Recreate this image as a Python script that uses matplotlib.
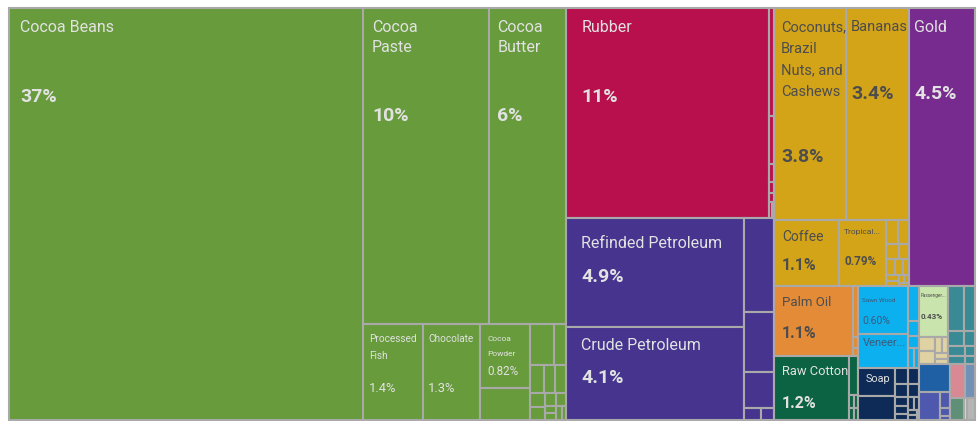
import matplotlib.pyplot as plt
from matplotlib.patches import Rectangle

# export shares (%), one list per section
food_vals = [36.54, 10.0, 6.11, 1.45, 1.35, 0.80, 0.40, 0.25, 0.13, 0.10, 0.075, 0.075,
             0.057, 0.049, 0.038, 0.033, 0.02, 0.02, 0.019, 0.016]
food_names = ['Cocoa Beans', 'Cocoa\nPaste', 'Cocoa\nButter', 'Processed\nFish', 'Chocolate', 'Cocoa\nPowder']
food_pcts = ['37%', '10%', '6%', '1.4%', '1.3%', '0.82%']

rubber_vals = [10.66, 0.135, 0.06, 0.023, 0.014, 0.011, 0.01, 0.01]
rubber_names = ['Rubber']
rubber_pcts = ['11%']

mineral_vals = [4.88, 4.12, 0.71, 0.45, 0.27, 0.05, 0.04]
mineral_names = ['Refinded Petroleum', 'Crude Petroleum']
mineral_pcts = ['4.9%', '4.1%']

veg_vals = [3.82, 3.36, 1.08, 0.78, 0.072, 0.066,
            0.05, 0.04, 0.035, 0.03, 0.025, 0.02, 0.015, 0.012, 0.01, 0.008]
veg_names = ['Coconuts,\nBrazil\nNuts, and\nCashews', 'Bananas', 'Coffee', 'Tropical...']
veg_pcts = ['3.8%', '3.4%', '1.1%', '0.79%']

gold_vals = [4.58]
gold_names = ['Gold']
gold_pcts = ['4.5%']

oils_vals = [1.39, 0.065, 0.015, 0.01]
oils_names = ['Palm Oil']
oils_pcts = ['1.1%']

textile_vals = [1.21, 0.09, 0.014, 0.014, 0.014, 0.014]
textile_names = ['Raw Cotton']
textile_pcts = ['1.2%']

wood_vals = [0.60, 0.42, 0.088, 0.04, 0.03, 0.025, 0.025]
wood_names = ['Sawn Wood', 'Veneer...']
wood_pcts = ['0.60%', '']

chem_vals = [0.26, 0.22, 0.055, 0.045, 0.04, 0.035, 0.03, 0.025, 0.02, 0.018, 0.015, 0.012, 0.01, 0.005]
chem_names = ['Soap']
chem_pcts = ['']

transport_vals = [0.38]
transport_names = ['Passenger...']
transport_pcts = ['0.43%']

beige_vals = [0.055, 0.05, 0.03, 0.025, 0.02, 0.015]
machine_vals = [0.18, 0.12, 0.06, 0.045, 0.04, 0.03, 0.025, 0.02]
instr_vals = [0.22]
metal_vals = [0.15, 0.04, 0.02, 0.01]
pink_vals = [0.13]
slate_vals = [0.09]
grgreen_vals = [0.078]
yellowish_vals = [0.015]
other_vals = [0.045]

# nesting of the boxes (leaf ints index the section lists)
sections = {
    'food': (food_vals, ('h', [0, ('v', [('h', [1, 2]), ('h', [3, 4, ('v', [5, 6]),
             ('v', [('h', [7, 8]), ('h', [9, 10, 11]), ('sq', list(range(12, 20)))])])])]),
             '#679b3b', food_names, food_pcts),
    'rubber': (rubber_vals, ('h', [0, ('v', [1, 2, 3, 4, 5, ('h', [6, 7])])]), '#b8104c', rubber_names, rubber_pcts),
    'mineral': (mineral_vals, ('h', [('v', [0, 1]), ('v', [2, 3, 4, ('h', [5, 6])])]), '#46348f',
                mineral_names, mineral_pcts),
    'veg': (veg_vals, ('v', [('h', [0, 1]), ('h', [2, 3, ('v', [('h', [4, 5]), ('sq', list(range(6, 16)))])])]),
            '#d4a418', veg_names, veg_pcts),
    'gold': (gold_vals, 0, '#772b8e', gold_names, gold_pcts),
    'oils': (oils_vals, ('h', [0, ('v', [1, 2, 3])]), '#e48b37', oils_names, oils_pcts),
    'textile': (textile_vals, ('h', [0, ('v', [1, ('sq', [2, 3, 4, 5])])]), '#0b6343', textile_names, textile_pcts),
    'wood': (wood_vals, ('h', [('v', [0, 1]), ('v', [2, 3, 4, ('h', [5, 6])])]), '#0cb0ee', wood_names, wood_pcts),
    'chem': (chem_vals, ('h', [('v', [0, 1]), ('sq', list(range(2, 14)))]), '#0d2b56', chem_names, chem_pcts),
    'transport': (transport_vals, 0, '#c9e4ad', transport_names, transport_pcts),
    'beige': (beige_vals, ('h', [('v', [0, 1]), ('sq', [2, 3, 4, 5])]), '#dfd2a3', [], []),
    'machine': (machine_vals, ('v', [('h', [0, 1]), ('sq', list(range(2, 8)))]), '#3a8a95', [], []),
    'instr': (instr_vals, 0, '#1f5fa4', [], []),
    'metal': (metal_vals, ('h', [0, ('v', [1, 2, 3])]), '#4e59ad', [], []),
    'pink': (pink_vals, 0, '#d98993', [], []),
    'slate': (slate_vals, 0, '#7391b6', [], []),
    'grgreen': (grgreen_vals, 0, '#5f9077', [], []),
    'yellowish': (yellowish_vals, 0, '#f2dd8e', [], []),
    'other': (other_vals, 0, '#b5b5b5', [], []),
}

root = ('h', ['food', ('v', ['rubber', 'mineral']),
              ('v', [('h', ['veg', 'gold']),
                     ('h', [('v', ['oils', 'textile']), ('v', ['wood', 'chem']),
                            ('v', [('h', [('v', ['transport', 'beige']), 'machine']),
                                   ('h', [('v', ['instr', 'metal']),
                                          ('v', [('h', ['pink', 'slate']),
                                                 ('h', ['grgreen', 'yellowish', 'other'])])])])])])])

PHI = (1 + 5 ** 0.5) / 2


def squarify(sizes, x0, y0, w, h):
    # d3 style squarified rows
    x1, y1 = x0 + w, y0 + h
    rects, value, i0, n = [], sum(sizes), 0, len(sizes)
    while i0 < n:
        dx, dy = x1 - x0, y1 - y0
        s = mn = mx = sizes[i0]
        i1 = i0 + 1
        alpha = max(dy / dx, dx / dy) / (value * PHI)
        beta = s * s * alpha
        best = max(mx / beta, beta / mn)
        while i1 < n:
            v = sizes[i1]
            s2, mn2, mx2 = s + v, min(mn, v), max(mx, v)
            beta = s2 * s2 * alpha
            r = max(mx2 / beta, beta / mn2)
            if r > best:
                break
            s, mn, mx, best = s2, mn2, mx2, r
            i1 += 1
        if dx < dy:
            hh, xx = dy * s / value, x0
            for v in sizes[i0:i1]:
                rects.append((xx, y0, dx * v / s, hh))
                xx += dx * v / s
            y0 += hh
        else:
            ww, yy = dx * s / value, y0
            for v in sizes[i0:i1]:
                rects.append((x0, yy, ww, dy * v / s))
                yy += dy * v / s
            x0 += ww
        value -= s
        i0 = i1
    return rects


def total(node, vals=None):
    if isinstance(node, str):
        return sum(sections[node][0])
    if isinstance(node, int):
        return vals[node]
    return sum(total(k, vals) for k in node[1])


def place(node, x, y, w, h, out, sec=None):
    if isinstance(node, str):
        place(sections[node][1], x, y, w, h, out, node)
        return
    if isinstance(node, int):
        out.append((sec, node, x, y, w, h))
        return
    vals = sections[sec][0] if sec else None
    kind, kids = node
    sizes = [total(k, vals) for k in kids]
    if kind == 'sq':
        for k, r in zip(kids, squarify(sizes, x, y, w, h)):
            place(k, *r, out, sec)
        return
    s, pos = sum(sizes), 0
    for k, v in zip(kids, sizes):
        if kind == 'h':
            place(k, x + pos, y, w * v / s, h, out, sec)
            pos += w * v / s
        else:
            place(k, x, y + pos, w, h * v / s, out, sec)
            pos += h * v / s


plt.rcParams['font.family'] = ['Roboto', 'DejaVu Sans']

light, dark, woodtxt = '#e2e2e2', '#4d4d4d', '#3b5a7c'
# label style: x pad, name cap-top pad, pct cap-top pad, name size, pct size, line pitch, pct weight, colour
label_style = {
    'Cocoa Beans': (11, 13, 80, 11.5, 14, 20, 'bold', light),
    'Cocoa\nPaste': (9, 13, 99, 11.5, 14, 20, 'bold', light),
    'Cocoa\nButter': (8, 13, 99, 11.5, 14, 20, 'bold', light),
    'Rubber': (15, 13, 80, 11.5, 14, 20, 'bold', light),
    'Refinded Petroleum': (15, 19, 50, 11.5, 14, 20, 'bold', light),
    'Crude Petroleum': (15, 11, 42, 11.5, 14, 20, 'bold', light),
    'Coconuts,\nBrazil\nNuts, and\nCashews': (7, 13, 140, 10.5, 14, 21.5, 'bold', dark),
    'Bananas': (5, 13, 77, 10.5, 14, 20, 'bold', dark),
    'Gold': (5, 13, 77, 11.5, 14, 20, 'bold', light),
    'Coffee': (8, 11, 39, 10, 11.5, 20, 'bold', dark),
    'Tropical...': (5, 8, 37, 6, 8.5, 12, 'bold', dark),
    'Palm Oil': (8, 11, 41, 9.5, 11.5, 20, 'bold', dark),
    'Raw Cotton': (8, 10, 41, 9.3, 11.5, 20, 'bold', light),
    'Sawn Wood': (4, 11, 31, 4.6, 7.5, 10, 'normal', woodtxt),
    'Veneer...': (4, 4, 30, 8, 8, 12, 'normal', woodtxt),
    'Soap': (7, 7, 30, 7.8, 8, 12, 'normal', light),
    'Passenger...': (2, 8, 27, 3.3, 5.8, 6, 'bold', dark),
    'Processed\nFish': (6, 11, 59, 7.2, 9.3, 17, 'normal', light),
    'Chocolate': (5, 11, 59, 7.2, 9.3, 17, 'normal', light),
    'Cocoa\nPowder': (8, 11, 43, 6, 8.4, 15, 'normal', light),
}

DPI = 100
fig = plt.figure(figsize=(9.78, 4.21), dpi=DPI)
ax = fig.add_axes([0, 0, 1, 1])
ax.set_xlim(0, 978)
ax.set_ylim(421, 0)
ax.axis('off')

boxes = []
place(root, 9, 8, 966, 412, boxes)

for sec, i, x, y, w, h in boxes:
    color = sections[sec][2]
    ax.add_patch(Rectangle((x, y), w, h, facecolor=color, edgecolor='#a9a9a9', lw=1.5))


def cap_text(x, ycap, s, fs, pitch=0, **kw):
    # place each line so its capital tops sit at ycap, ycap + pitch, ...
    px = fs * DPI / 72
    for k, line in enumerate(s.split('\n')):
        ax.text(x, ycap + 0.71 * px + k * pitch, line, fontsize=fs, va='baseline', ha='left', **kw)


for sec, i, x, y, w, h in boxes:
    names, pcts = sections[sec][3], sections[sec][4]
    if i >= len(names):
        continue
    dx, ny, py, nfs, pfs, pitch, pw, col = label_style[names[i]]
    cap_text(x + dx, y + ny, names[i], nfs, pitch, color=col)
    if pcts[i]:
        cap_text(x + dx, y + py, pcts[i], pfs, color=col, fontweight=pw)

fig.savefig('out.png', dpi=DPI)
